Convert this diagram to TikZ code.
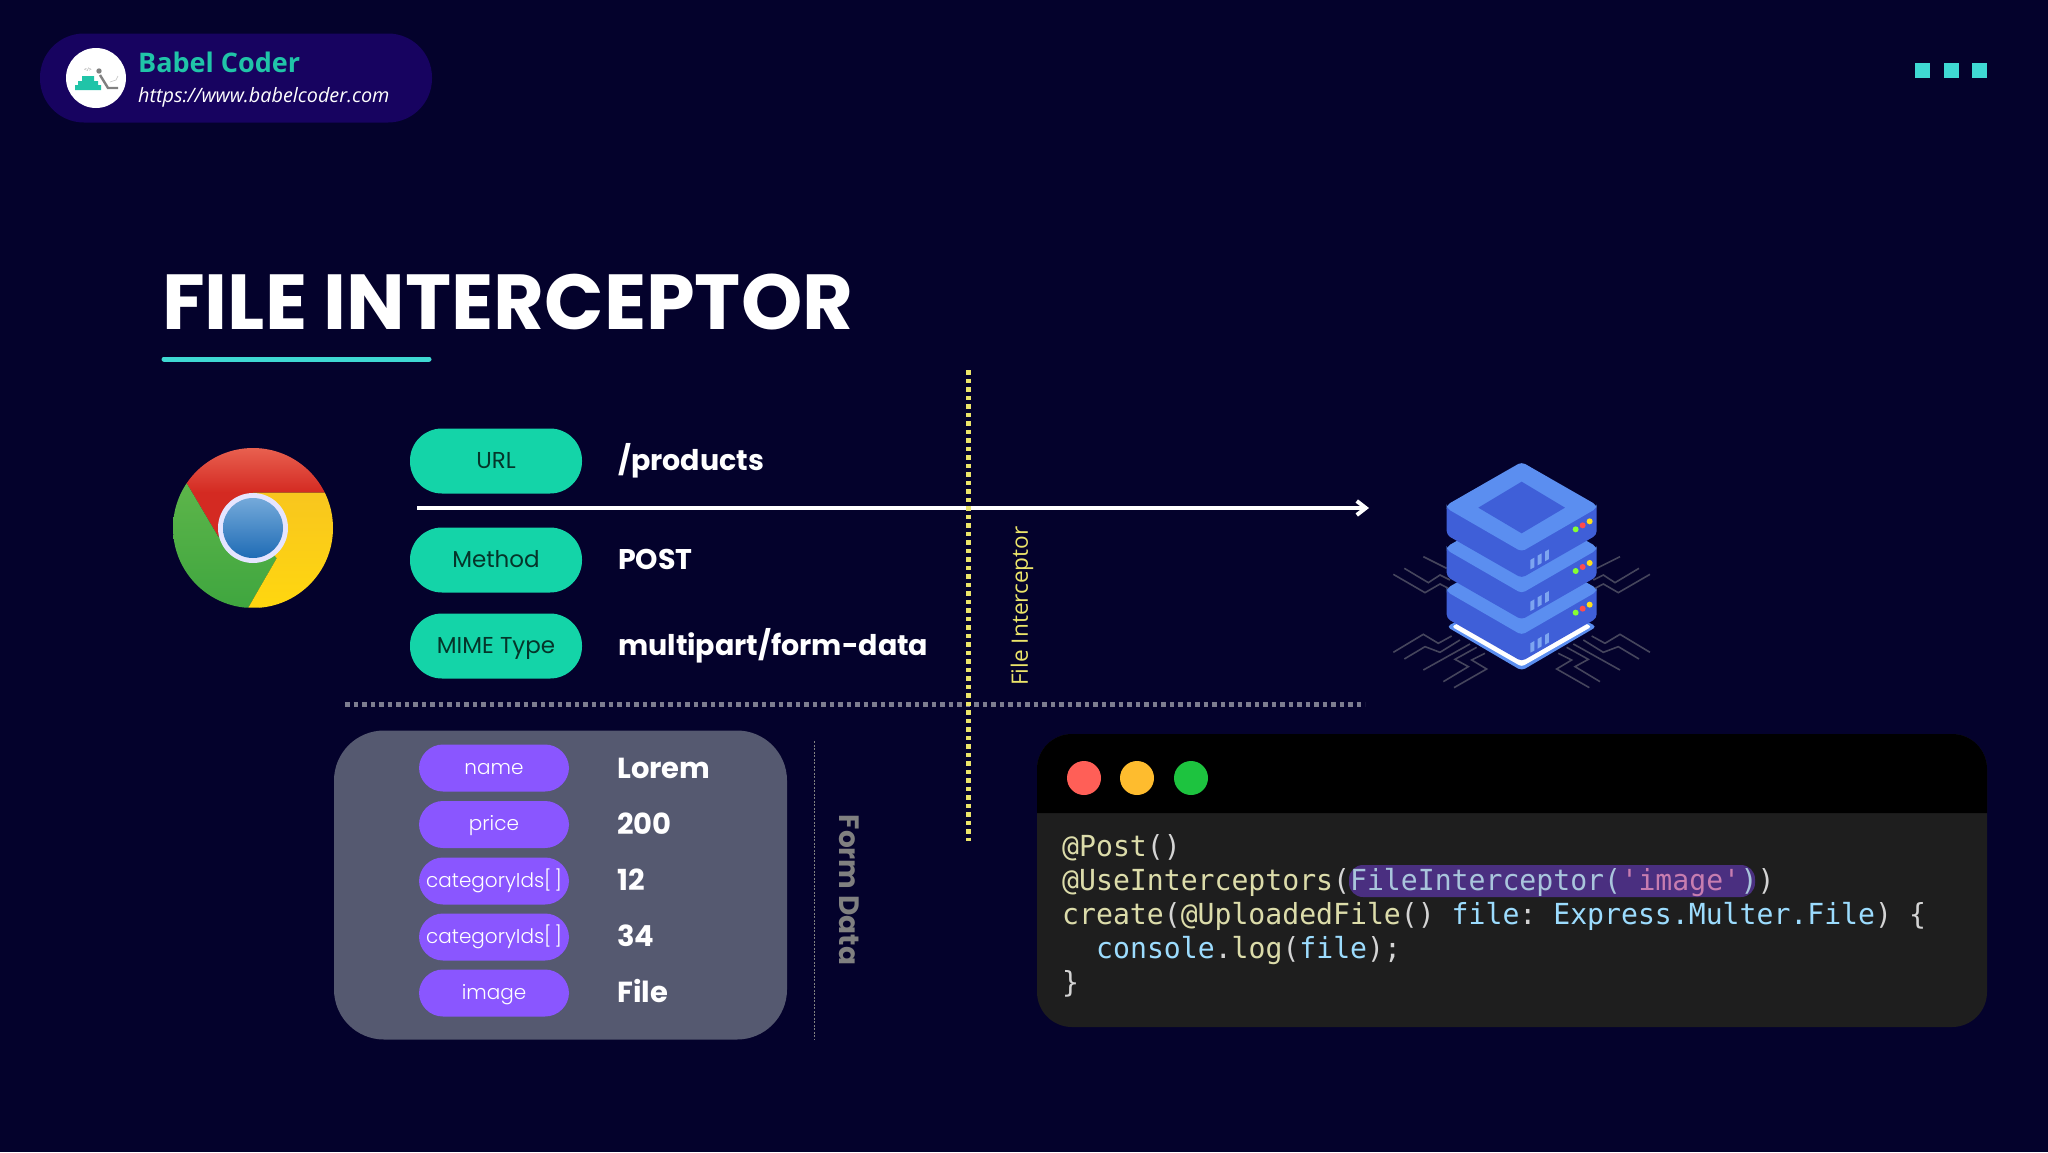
\documentclass[tikz,border=0pt]{standalone}
\usepackage{fontspec}
\setmainfont{Poppins}
\newfontfamily\headfont{Open Sans}
\newfontfamily\tagfont{Poppins Light}
\newfontfamily\codefont[FakeStretch=0.97]{DejaVu Sans Mono}
\usetikzlibrary{arrows.meta}

\definecolor{pageBack}{HTML}{04022C}
\definecolor{logoBack}{HTML}{170360}
\definecolor{teal}{HTML}{14D4A8}
\definecolor{logoTeal}{HTML}{20C4A8}
\definecolor{dotTeal}{HTML}{3FD9D3}
\definecolor{purpleTag}{HTML}{8A56FF}
\definecolor{formBack}{HTML}{555970}
\definecolor{fileYellow}{HTML}{ECE56A}
\definecolor{dotGray}{HTML}{7D7D90}
\definecolor{codeBack}{HTML}{1E1E1E}
\definecolor{codeMark}{HTML}{4A2F80}
\definecolor{codeFn}{HTML}{DCDCAA}
\definecolor{codeVar}{HTML}{9CDCFE}
\definecolor{codeMarked}{HTML}{A9C5DC}
\definecolor{codeText}{HTML}{D4D4D4}
\definecolor{codeStr}{HTML}{C77DB0}
\definecolor{serverLight}{HTML}{5B8EF0}
\definecolor{serverDark}{HTML}{3F5FD8}
\definecolor{serverSlot}{HTML}{7DA5F0}
\definecolor{wireGray}{HTML}{45455C}
\definecolor{chromeRedTop}{HTML}{E8604F}
\definecolor{chromeRed}{HTML}{D42A22}
\definecolor{chromeGreenTop}{HTML}{5DB54A}
\definecolor{chromeGreen}{HTML}{3FA63F}
\definecolor{chromeGold}{HTML}{F8C61E}
\definecolor{chromeYellow}{HTML}{FFD70F}
\definecolor{chromeBlueTop}{HTML}{74A9DA}
\definecolor{chromeBlue}{HTML}{1F6CB5}
\definecolor{winRed}{HTML}{FF5F57}
\definecolor{winAmber}{HTML}{FEBC2E}
\definecolor{winGreen}{HTML}{1DC33F}

\newcommand{\cfn}[1]{\textcolor{codeFn}{#1}}
\newcommand{\cvar}[1]{\textcolor{codeVar}{#1}}
\newcommand{\csp}{\hspace{16.94pt}}

\begin{document}
\begin{tikzpicture}[x=1pt,y=-1pt]

    % Node styles
    \tikzset{
        reqtag/.style={fill=teal,text=black!75!teal,rounded corners=32pt,minimum width=172pt,
            minimum height=65pt,inner sep=0pt,text height=19pt,text depth=5pt,font=\fontsize{23}{26}\selectfont},
        reqvalue/.style={anchor=west,text=white,inner sep=0pt,text height=24pt,text depth=6pt,
            font=\fontsize{28.5}{34}\selectfont\bfseries},
        formtag/.style={fill=purpleTag,text=white,rounded corners=24pt,minimum width=150pt,
            minimum height=47pt,inner sep=0pt,text height=17.5pt,text depth=5pt,font=\tagfont\fontsize{20}{24}\selectfont},
        formvalue/.style={anchor=west,text=white,inner sep=0pt,text height=21pt,text depth=1pt,
            font=\fontsize{29}{34}\selectfont\bfseries},
        codeline/.style={anchor=base west,inner sep=0pt,text=codeText,font=\codefont\fontsize{29}{34}\selectfont},
        windot/.style={circle,minimum size=34pt,inner sep=0pt},
        topsquare/.style={fill=dotTeal,minimum size=15pt,inner sep=0pt}
    }

    % Page
    \fill[pageBack] (0,0) rectangle (2048,1152);
    \useasboundingbox (0,0) rectangle (2048,1152);

    % Logo
    \node[fill=logoBack,rounded corners=44pt,minimum width=392pt,minimum height=89pt] (logoPill) at (236,78){};
    \node[circle,fill=white,minimum size=60pt,inner sep=0pt] (logoDisc) at (96,78){};
    \fill[logoTeal] (75,85) rectangle (101,90) (78,81) rectangle (98,85) (82,76) rectangle (94,81);
    \fill[gray] (99,71) circle (2.7);
    \draw[gray,line width=2.4pt] (100,75) -- (108,88) -- (118,88);
    \draw[gray!50,line width=.6pt] (110,82) -- (116,80) -- (118,76);
    \node[text=gray,inner sep=0pt,font=\headfont\fontsize{5}{5}\selectfont] (logoTagText) at (88,70){</>};
    \node[anchor=base west,inner sep=0pt,text=logoTeal,font=\headfont\fontsize{27}{30}\selectfont\bfseries] (logoName) at (138,72){Babel Coder};
    \node[anchor=base west,inner sep=0pt,text=white,font=\headfont\fontsize{19.8}{24}\selectfont\itshape] (logoLink) at (138,102){https://www.babelcoder.com};

    % Squares, top right
    \node[topsquare] (squareA) at (1922,70){};
    \node[topsquare] (squareB) at (1951,70){};
    \node[topsquare] (squareC) at (1979,70){};

    % Title
    \node[anchor=base west,inner sep=0pt,text=white,font=\fontsize{78}{90}\selectfont\bfseries] (title) at (162,329){FILE INTERCEPTOR};
    \draw[dotTeal,line width=5pt,line cap=round] (164,359) -- (429,359);

    % Chrome
    \begin{scope}
        \clip (253,528) circle (80);
        \shade[top color=chromeRedTop,bottom color=chromeRed,middle color=chromeRed] (186.7,483.3) -- (173,448) -- (333,448) -- (333,492.7) -- (253,492.7) -- (253,528) -- (218.3,536.7) -- cycle;
        \shade[top color=chromeGreenTop,bottom color=chromeGreen] (186.7,483.3) -- (218.3,536.7) -- (253,528) -- (276.7,558.3) -- (248.3,607.7) -- (173,608) -- (173,483) -- cycle;
        \shade[top color=chromeGold,bottom color=chromeYellow] (333,492.7) -- (253,492.7) -- (253,528) -- (276.7,558.3) -- (248.3,607.7) -- (333,608) -- cycle;
    \end{scope}
    \fill[white!90!blue] (253,528) circle (35);
    \shade[top color=chromeBlueTop,bottom color=chromeBlue] (253,528) circle (30);

    % Request rows
    \node[reqtag] (urlTag) at (496,461){URL};
    \node[reqtag] (methodTag) at (496,560){Method};
    \node[reqtag] (mimeTag) at (496,646){MIME Type};
    \node[reqvalue] (urlValue) at (618,461){/products};
    \node[reqvalue] (methodValue) at (618,560){POST};
    \node[reqvalue] (mimeValue) at (618,646){multipart/form-data};

    % Lines
    \coordinate (arrowFrom) at (417,508);
    \coordinate (arrowTo) at (1369,508);
    \coordinate (yellowTop) at (968.5,370);
    \coordinate (yellowEnd) at (968.5,841);
    \coordinate (grayFrom) at (345,704.5);
    \coordinate (grayTo) at (1365,704.5);
    \coordinate (dashTop) at (814,741);
    \coordinate (dashEnd) at (814,1039);
    \draw[white,line width=4pt,-{Straight Barb[length=9pt,width=14pt]}] (arrowFrom) -- (arrowTo);
    \draw[dotGray,line width=4.5pt,dash pattern=on 4.5pt off 4pt] (grayFrom) -- (grayTo);
    \draw[fileYellow,line width=4.5pt,dash pattern=on 4.5pt off 4pt] (yellowTop) -- (yellowEnd);
    \draw[gray,line width=1pt,dash pattern=on 2pt off 1.5pt] (dashTop) -- (dashEnd);
    \node[rotate=90,text=fileYellow,inner sep=0pt,font=\headfont\fontsize{22.6}{26}\selectfont] (fileLabel) at (1022,606){File Interceptor};

    % Server
    \begin{scope}[shift={(1370,440)},x=0.3333pt,y=-0.3333pt]
        \begin{scope}[shift={(455,0)}]
            \foreach \flip in {1,-1}{
                \begin{scope}[xscale=\flip]
                    \draw[wireGray,line width=1.6pt] (-225,385) -- (-295,350);
                    \draw[wireGray,line width=1.6pt] (-352,385) -- (-280,428) -- (-245,405) -- (-215,420);
                    \draw[wireGray,line width=1.6pt] (-385,403) -- (-290,458) -- (-245,432) -- (-220,445);
                    \draw[wireGray,line width=1.6pt] (-385,637) -- (-295,583) -- (-250,610) -- (-210,588);
                    \draw[wireGray,line width=1.6pt] (-352,657) -- (-290,620) -- (-245,637) -- (-185,600);
                    \draw[wireGray,line width=1.6pt] (-295,690) -- (-155,612);
                    \draw[wireGray,line width=1.6pt] (-235,725) -- (-160,680) -- (-200,658) -- (-135,622);
                    \draw[wireGray,line width=1.6pt] (-203,743) -- (-105,687) -- (-150,660) -- (-110,640);
                \end{scope}
            }
        \end{scope}
        % base plate
        \fill[serverLight,rounded corners=4pt] (230,560) -- (455,692) -- (680,560) -- (455,440) -- cycle;
        \fill[white,rounded corners=3pt] (245,560) -- (455,680) -- (665,560) -- (455,450) -- cycle;
        \foreach \lift in {250,125,0}{
            \begin{scope}[yshift=-\lift*0.3333pt]
                \fill[serverDark,rounded corners=4pt] (230,195) -- (230,285) -- (455,414) -- (680,285) -- (680,195) -- cycle;
                \fill[serverLight,rounded corners=4pt] (230,195) -- (230,205) -- (455,335) -- (680,205) -- (680,195) -- (455,66) -- cycle;
                \fill[green!60!yellow!80!white] (617,268) circle (9);
                \fill[red!70!white] (638,256) circle (9);
                \fill[yellow!80!orange!90!white] (659,244) circle (9);
                \fill[serverSlot] (481,360) -- (493,353) -- (493,382) -- (481,388) -- cycle;
                \fill[serverSlot] (503,347) -- (515,340) -- (515,369) -- (503,376) -- cycle;
                \fill[serverSlot] (525,335) -- (537,328) -- (537,357) -- (525,364) -- cycle;
            \end{scope}
        }
        \fill[serverDark] (455,125) -- (585,203) -- (455,280) -- (325,203) -- cycle;
    \end{scope}

    % Form data
    \node[fill=formBack,rounded corners=50pt,minimum width=453pt,minimum height=309pt] (formPanel) at (560.5,885){};
    \node[formtag] (nameTag) at (494,768){name};
    \node[formtag] (priceTag) at (494,824.5){price};
    \node[formtag] (idTagA) at (494,881){categoryIds[\kern3pt]};
    \node[formtag] (idTagB) at (494,937){categoryIds[\kern3pt]};
    \node[formtag] (imageTag) at (494,993){image};
    \node[formvalue] (nameValue) at (617,768){Lorem};
    \node[formvalue] (priceValue) at (617,824){200};
    \node[formvalue] (idValueA) at (617,880){12};
    \node[formvalue] (idValueB) at (617,936){34};
    \node[formvalue] (imageValue) at (617,992){File};
    \node[rotate=-90,text=gray,inner sep=0pt,font=\fontsize{28}{32}\selectfont\bfseries] (formLabel) at (849,890){Form Data};

    % Code window
    \node[fill=codeBack,rounded corners=35pt,minimum width=950pt,minimum height=293pt] (codeWindow) at (1512,880.5){};
    \fill[black] (1037,813) [rounded corners=35pt] -- (1037,734) -- (1987,734) [sharp corners] -- (1987,813) -- cycle;
    \node[windot,fill=winRed] (dotRed) at (1084,778){};
    \node[windot,fill=winAmber] (dotAmber) at (1137,778){};
    \node[windot,fill=winGreen] (dotGreen) at (1191,778){};
    \node[fill=codeMark,rounded corners=14pt,minimum width=406pt,minimum height=32pt,inner sep=0pt] (codeHilite) at (1552,881){};
    \node[codeline] (lineA) at (1062,856){\cfn{@Post}()};
    \node[codeline] (lineB) at (1062,890){\cfn{@UseInterceptors}(\textcolor{codeMarked}{FileInterceptor(}\textcolor{codeStr}{\textquotesingle image\textquotesingle}\textcolor{codeMarked}{)})};
    \node[codeline] (lineC) at (1062,924){\cfn{create}(\cfn{@UploadedFile}()\csp\cvar{file}:\csp\cvar{Express.Multer.File})\csp\{};
    \node[codeline] (lineD) at (1096,958){\cvar{console}.\cfn{log}(\cvar{file});};
    \node[codeline] (lineE) at (1062,992){\}};

\end{tikzpicture}
\end{document}
